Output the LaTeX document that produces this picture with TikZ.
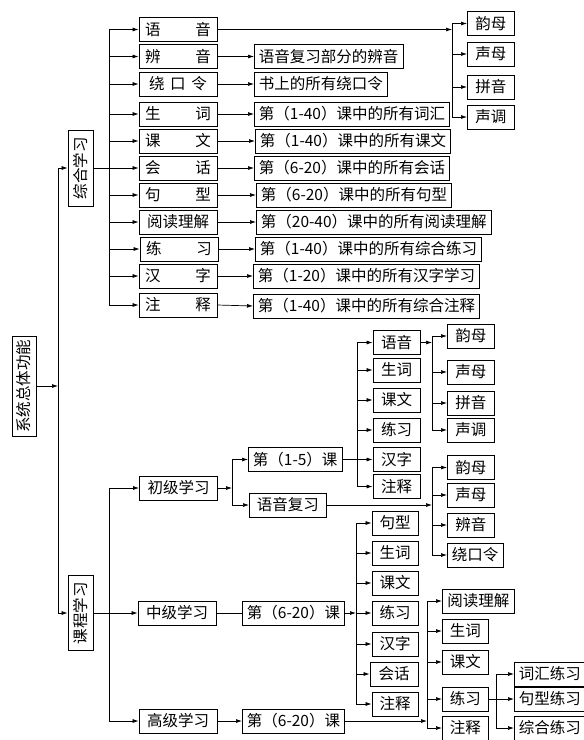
\documentclass[tikz,border=0pt]{standalone}
\usepackage{fontspec}
\setmainfont{Noto Sans CJK SC}
\usetikzlibrary{arrows.meta}
\def\spr#1#2{\makebox[#1]{#2}}
\tikzset{
	box/.style={draw, line width=0.8pt, inner xsep=4.5pt, inner ysep=0pt, minimum height=24pt, font=\fontsize{15.5}{15.5}\selectfont},
	cbox/.style={box, minimum width=78pt},
	sbox/.style={box, minimum width=47pt},
	dbox/.style={box, anchor=west},
	vbox/.style={box, rotate=90, minimum height=25pt, inner xsep=3pt},
	ln/.style={line width=0.7pt},
	arr/.style={line width=0.7pt, -{Latex[length=6pt, width=4pt]}},
}
\begin{document}
\begin{tikzpicture}[x=1pt, y=-1pt]
		%%%%% START %%%%%
		\useasboundingbox (0, 0) rectangle (584, 740);
		
		% top level
		\node[vbox, minimum width=100pt, minimum height=24pt] (sys) at (24, 386) {系统总体功能};
		\node[vbox, minimum width=76pt] (zh) at (80.5, 168) {综合学习};
		\node[vbox, minimum width=75pt] (kc) at (80.5, 613) {课程学习};
		\coordinate (m) at (58, 386);
		\draw[arr] (sys.south) -- (m);
		\draw[ln] (m |- zh.north) -- (m |- kc.north);
		\draw[arr] (m |- zh.north) -- (zh.north);
		\draw[arr] (m |- kc.north) -- (kc.north);
		
		% 综合学习
		\coordinate (b1) at (109, 168);
		\draw[ln] (zh.south) -- (b1);
		\node[cbox] (zyy) at (178, 29.5) {\spr{66pt}{语\hfill 音}};
		\node[cbox] (zby) at (178, 56.5) {\spr{66pt}{辨\hfill 音}};
		\node[cbox] (zrk) at (178, 84) {\spr{58pt}{绕\hfill 口\hfill 令}};
		\node[cbox] (zsc) at (178, 114) {\spr{66pt}{生\hfill 词}};
		\node[cbox] (zkw) at (178, 141) {\spr{66pt}{课\hfill 文}};
		\node[cbox] (zhh) at (178, 168) {\spr{66pt}{会\hfill 话}};
		\node[cbox] (zjx) at (178, 195) {\spr{66pt}{句\hfill 型}};
		\node[cbox] (zyd) at (178, 222) {阅读理解};
		\node[cbox] (zlx) at (179, 249) {\spr{66pt}{练\hfill 习}};
		\node[cbox] (zhz) at (178, 276) {\spr{66pt}{汉\hfill 字}};
		\node[cbox] (zzs) at (178, 305) {\spr{66pt}{注\hfill 释}};
		\draw[ln] (b1 |- zyy.west) -- (b1 |- zzs.west);
		\draw[arr] (b1 |- zyy.west) -- (zyy.west);
		\draw[arr] (b1 |- zby.west) -- (zby.west);
		\draw[arr] (b1 |- zrk.west) -- (zrk.west);
		\draw[arr] (b1 |- zsc.west) -- (zsc.west);
		\draw[arr] (b1 |- zkw.west) -- (zkw.west);
		\draw[arr] (b1 |- zhh.west) -- (zhh.west);
		\draw[arr] (b1 |- zjx.west) -- (zjx.west);
		\draw[arr] (b1 |- zyd.west) -- (zyd.west);
		\draw[arr] (b1 |- zlx.west) -- (zlx.west);
		\draw[arr] (b1 |- zhz.west) -- (zhz.west);
		\draw[arr] (b1 |- zzs.west) -- (zzs.west);
		
		\node[dbox] (dby) at (254, 56.5) {语音复习部分的辨音};
		\node[dbox] (drk) at (254, 84) {书上的所有绕口令};
		\node[dbox] (dsc) at (254, 114) {第（1-40）课中的所有词汇};
		\node[dbox] (dkw) at (255, 141) {第（1-40）课中的所有课文};
		\node[dbox] (dhh) at (254, 168) {第（6-20）课中的所有会话};
		\node[dbox] (djx) at (256, 195) {第（6-20）课中的所有句型};
		\node[dbox] (dyd) at (256, 222) {第（20-40）课中的所有阅读理解};
		\node[dbox] (dlx) at (255, 249) {第（1-40）课中的所有综合练习};
		\node[dbox] (dhz) at (253, 276) {第（1-20）课中的所有汉字学习};
		\node[dbox] (dzs) at (253, 306) {第（1-40）课中的所有综合注释};
		\draw[arr] (zby.east) -- (dby.west);
		\draw[arr] (zrk.east) -- (drk.west);
		\draw[arr] (zsc.east) -- (dsc.west);
		\draw[arr] (zkw.east) -- (dkw.west);
		\draw[arr] (zhh.east) -- (dhh.west);
		\draw[arr] (zjx.east) -- (djx.west);
		\draw[arr] (zyd.east) -- (dyd.west);
		\draw[arr] (zlx.east) -- (dlx.west);
		\draw[arr] (zhz.east) -- (dhz.west);
		\draw[arr] (zzs.east) -- (dzs.west);
		
		% 语音
		\coordinate (b2) at (452, 29.5);
		\draw[arr] (zyy.east) -- (b2);
		\node[sbox, anchor=west] (ym1) at (467, 23.5) {韵母};
		\node[sbox, anchor=west] (sm1) at (467, 54) {声母};
		\node[sbox, anchor=west] (py1) at (467, 87) {拼音};
		\node[sbox, anchor=west] (sd1) at (467, 117) {声调};
		\draw[ln] (b2 |- ym1.west) -- (b2 |- sd1.west);
		\draw[arr] (b2 |- ym1.west) -- (ym1.west);
		\draw[arr] (b2 |- sm1.west) -- (sm1.west);
		\draw[arr] (b2 |- py1.west) -- (py1.west);
		\draw[arr] (b2 |- sd1.west) -- (sd1.west);
		
		% 课程学习
		\coordinate (b3) at (109, 613);
		\draw[ln] (kc.south) -- (b3);
		\node[cbox] (cj) at (178.5, 488) {初级学习};
		\node[cbox] (zj) at (177, 613) {中级学习};
		\node[cbox] (gj) at (178, 721) {高级学习};
		\draw[ln] (b3 |- cj.west) -- (b3 |- gj.west);
		\draw[arr] (b3 |- cj.west) -- (cj.west);
		\draw[arr] (b3 |- zj.west) -- (zj.west);
		\draw[arr] (b3 |- gj.west) -- (gj.west);
		
		% 初级学习
		\coordinate (b4) at (232, 488);
		\draw[arr] (cj.east) -- (b4);
		\node[dbox, minimum width=93pt] (k15) at (248, 459.5) {第（1-5）课};
		\node[dbox, minimum width=77pt] (yf) at (249, 505) {语音复习};
		\draw[ln] (b4 |- k15.west) -- (b4 |- yf.west);
		\draw[arr] (b4 |- k15.west) -- (k15.west);
		\draw[arr] (b4 |- yf.west) -- (yf.west);
		
		\coordinate (b5) at (357, 459.5);
		\node[sbox] (k1yy) at (396.5, 342.5) {语音};
		\node[sbox] (k1sc) at (396.5, 370) {生词};
		\node[sbox] (k1kw) at (396.5, 400) {课文};
		\node[sbox] (k1lx) at (396.5, 430) {练习};
		\node[sbox] (k1hz) at (396.5, 459.5) {汉字};
		\node[sbox] (k1zs) at (396.5, 486.5) {注释};
		\draw[ln] (k15.east) -- (b5);
		\draw[ln] (b5 |- k1yy.west) -- (b5 |- k1zs.west);
		\draw[arr] (b5 |- k1yy.west) -- (k1yy.west);
		\draw[arr] (b5 |- k1sc.west) -- (k1sc.west);
		\draw[arr] (b5 |- k1kw.west) -- (k1kw.west);
		\draw[arr] (b5 |- k1lx.west) -- (k1lx.west);
		\draw[arr] (b5 |- k1hz.west) -- (k1hz.west);
		\draw[arr] (b5 |- k1zs.west) -- (k1zs.west);
		
		\coordinate (b6) at (432, 342.5);
		\draw[arr] (k1yy.east) -- (b6);
		\node[sbox, anchor=west] (ym2) at (447, 336) {韵母};
		\node[sbox, anchor=west] (sm2) at (447, 372) {声母};
		\node[sbox, anchor=west] (py2) at (447, 403) {拼音};
		\node[sbox, anchor=west] (sd2) at (447, 430) {声调};
		\draw[ln] (b6 |- ym2.west) -- (b6 |- sd2.west);
		\draw[arr] (b6 |- ym2.west) -- (ym2.west);
		\draw[arr] (b6 |- sm2.west) -- (sm2.west);
		\draw[arr] (b6 |- py2.west) -- (py2.west);
		\draw[arr] (b6 |- sd2.west) -- (sd2.west);
		
		\coordinate (b7) at (432, 505);
		\draw[arr] (yf.east) -- (b7);
		\node[sbox, anchor=west] (ym3) at (447, 467.5) {韵母};
		\node[sbox, anchor=west] (sm3) at (447, 495) {声母};
		\node[sbox, anchor=west] (by3) at (447, 525) {辨音};
		\node[sbox, anchor=west, minimum width=54pt] (rk3) at (447, 555) {绕口令};
		\draw[ln] (b7 |- ym3.west) -- (b7 |- rk3.west);
		\draw[arr] (b7 |- ym3.west) -- (ym3.west);
		\draw[arr] (b7 |- sm3.west) -- (sm3.west);
		\draw[arr] (b7 |- by3.west) -- (by3.west);
		\draw[arr] (b7 |- rk3.west) -- (rk3.west);
		
		% 中级学习
		\node[dbox, minimum width=100pt] (k6a) at (242, 613) {第（6-20）课};
		\draw[ln] (zj.east) -- (k6a.west);
		\coordinate (b8) at (356, 613);
		\draw[arr] (k6a.east) -- (b8);
		\node[sbox, minimum width=46pt] (zjx) at (395, 523) {句型};
		\node[sbox, minimum width=46pt] (zsc2) at (395, 553) {生词};
		\node[sbox, minimum width=46pt] (zkw2) at (395, 583) {课文};
		\node[sbox, minimum width=46pt] (zlx2) at (395, 613) {练习};
		\node[sbox, minimum width=46pt] (zhz2) at (395, 644) {汉字};
		\node[sbox, minimum width=48pt] (zhh2) at (394, 674) {会话};
		\node[sbox, minimum width=46pt] (zzs2) at (395, 704) {注释};
		\draw[ln] (b8 |- zjx.west) -- (b8 |- zzs2.west);
		\draw[arr] (b8 |- zjx.west) -- (zjx.west);
		\draw[arr] (b8 |- zsc2.west) -- (zsc2.west);
		\draw[arr] (b8 |- zkw2.west) -- (zkw2.west);
		\draw[arr] (b8 |- zlx2.west) -- (zlx2.west);
		\draw[arr] (b8 |- zhz2.west) -- (zhz2.west);
		\draw[arr] (b8 |- zhh2.west) -- (zhh2.west);
		\draw[arr] (b8 |- zzs2.west) -- (zzs2.west);
		
		% 高级学习
		\node[dbox, minimum width=100pt] (k6b) at (242, 721) {第（6-20）课};
		\draw[arr] (gj.east) -- (k6b.west);
		\coordinate (b9) at (427, 721);
		\draw[arr] (k6b.east) -- (b9);
		\node[dbox, minimum width=72pt] (gyd) at (442, 601) {阅读理解};
		\node[dbox, minimum width=46pt] (gsc) at (442, 631) {生词};
		\node[dbox, minimum width=46pt] (gkw) at (442, 662) {课文};
		\node[dbox, minimum width=46pt] (glx) at (442, 699) {练习};
		\node[dbox, minimum width=46pt] (gzs) at (442, 728) {注释};
		\draw[ln] (b9 |- gyd.west) -- (b9 |- gzs.west);
		\draw[arr] (b9 |- gyd.west) -- (gyd.west);
		\draw[arr] (b9 |- gsc.west) -- (gsc.west);
		\draw[arr] (b9 |- gkw.west) -- (gkw.west);
		\draw[arr] (b9 |- glx.west) -- (glx.west);
		\draw[arr] (b9 |- gzs.west) -- (gzs.west);
		
		\coordinate (b10) at (496, 699);
		\draw[ln] (glx.east) -- (b10);
		\node[dbox, minimum width=69pt] (chlx) at (514, 674) {词汇练习};
		\node[dbox, minimum width=69pt] (jxlx) at (514, 699) {句型练习};
		\node[dbox, minimum width=69pt] (zhlx) at (514, 728) {综合练习};
		\draw[ln] (b10 |- chlx.west) -- (b10 |- zhlx.west);
		\draw[arr] (b10 |- chlx.west) -- (chlx.west);
		\draw[arr] (b10 |- jxlx.west) -- (jxlx.west);
		\draw[arr] (b10 |- zhlx.west) -- (zhlx.west);
		
		%%%%% END %%%%%
	\end{tikzpicture}
\end{document}
